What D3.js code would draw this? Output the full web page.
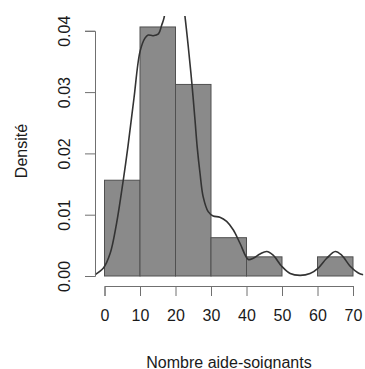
<!DOCTYPE html>
<html>
<head>
<meta charset="utf-8">
<script src="https://cdn.jsdelivr.net/npm/d3@7"></script>
<style>
  body { margin: 0; background: #fff; }
  text { font-family: "Liberation Sans", Arial, sans-serif; fill: #1a1a1a; }
</style>
</head>
<body>
<div id="hist"></div>
<script>
// histogram bins (lower edge) and densities
var binStarts = [0, 10, 20, 30, 40, 50, 60];
var binWidth = 10;
var densities = [0.015625, 0.040625, 0.03125, 0.00625, 0.003125, 0, 0.003125];

// kernel density curve
var kdeX = [-2.7, -0.3, 1.6, 3.4, 5.3, 6.6, 8.3, 10.0, 11.4, 12.3, 13.7, 15.2, 16.1, 16.8, 18.0, 19.5, 21.0, 22.7,
            23.6, 24.6, 25.5, 26.1, 26.9, 27.8, 29.2, 30.6, 32.5, 34.4, 36.3, 38.2, 40.5, 41.9, 43.8, 45.7,
            47.5, 49.9, 52.3, 55.1, 57.9, 60.2, 62.6, 65.0, 66.8, 69.2, 71.5, 72.9];
var kdeY = [0.0002, 0.0013, 0.0037, 0.0086, 0.0157, 0.0211, 0.0290, 0.0366, 0.0388, 0.0393, 0.0392, 0.0395, 0.0409, 0.0422, 0.0480, 0.0530, 0.0500, 0.0422,
            0.0374, 0.0315, 0.0254, 0.0211, 0.0168, 0.0129, 0.0105, 0.0098, 0.0096, 0.0089, 0.0075, 0.0053, 0.0027, 0.0029, 0.0036, 0.0040,
            0.0034, 0.0016, 0.0004, 0.0001, 0.0004, 0.0013, 0.0029, 0.0040, 0.0034, 0.0016, 0.0005, 0.0002];

var xTicks = [0, 10, 20, 30, 40, 50, 60, 70];
var yTicks = [0, 0.01, 0.02, 0.03, 0.04];

var xLabel = "Nombre aide-soignants";
var yLabel = "Densité";

var width = 365, height = 369;
var plot = {left: 94.6, right: 363.4, top: 16, bottom: 286};

var svg = d3.select("#hist")
  .append("svg")
    .attr("width", width)
    .attr("height", height);

var x = d3.scaleLinear()
  .domain([0, 70])
  .range([104.5, 353]);

var y = d3.scaleLinear()
  .domain([0, 0.04])
  .range([276, 30.8]);

svg.append("clipPath")
    .attr("id", "plotclip")
  .append("rect")
    .attr("x", plot.left)
    .attr("y", plot.top)
    .attr("width", plot.right - plot.left)
    .attr("height", plot.bottom - plot.top);

// bars
svg.append("g")
  .selectAll("rect")
  .data(binStarts)
  .enter()
  .append("rect")
    .attr("x", function(d) { return x(d); })
    .attr("y", function(d, i) { return y(densities[i]); })
    .attr("width", function(d) { return x(d + binWidth) - x(d); })
    .attr("height", function(d, i) { return y(0) - y(densities[i]); })
    .style("fill", "#8a8a8a")
    .style("stroke", "#505050")
    .style("stroke-width", 1);

// density line
var line = d3.line()
  .x(function(d) { return x(d); })
  .y(function(d, i) { return y(kdeY[i]); })
  .curve(d3.curveCatmullRom);

svg.append("path")
  .datum(kdeX)
  .attr("clip-path", "url(#plotclip)")
  .attr("d", line)
  .style("fill", "none")
  .style("stroke", "#333")
  .style("stroke-width", 1.6);

// X axis
var xAxis = svg.append("g")
  .attr("transform", "translate(0,286)")
  .call(d3.axisBottom(x).tickValues(xTicks).tickSize(10).tickPadding(14));
xAxis.select(".domain").attr("stroke", "#707070");
xAxis.selectAll(".tick line").attr("stroke", "#707070");
xAxis.selectAll(".tick text")
  .style("font-size", "16px")
  .attr("fill", "#1a1a1a")
  .attr("font-family", "Liberation Sans, Arial, sans-serif");

svg.append("text")
  .attr("x", (plot.left + plot.right) / 2)
  .attr("y", 368)
  .attr("text-anchor", "middle")
  .style("font-size", "16px")
  .text(xLabel);

// Y axis
var yAxis = svg.append("g")
  .attr("transform", "translate(95,0)")
  .call(d3.axisLeft(y).tickValues(yTicks).tickSize(10).tickFormat(d3.format(".2f")));
yAxis.select(".domain").attr("stroke", "#707070");
yAxis.selectAll(".tick line").attr("stroke", "#707070");
yAxis.selectAll(".tick text")
  .style("font-size", "16px")
  .attr("fill", "#1a1a1a")
  .attr("font-family", "Liberation Sans, Arial, sans-serif")
  .attr("x", 0)
  .attr("dy", 0)
  .attr("text-anchor", "middle")
  .attr("transform", "translate(-25,0)rotate(-90)");

svg.append("text")
  .attr("text-anchor", "middle")
  .attr("transform", "translate(27," + ((plot.top + plot.bottom) / 2) + ")rotate(-90)")
  .style("font-size", "16px")
  .text(yLabel);
</script>
</body>
</html>
